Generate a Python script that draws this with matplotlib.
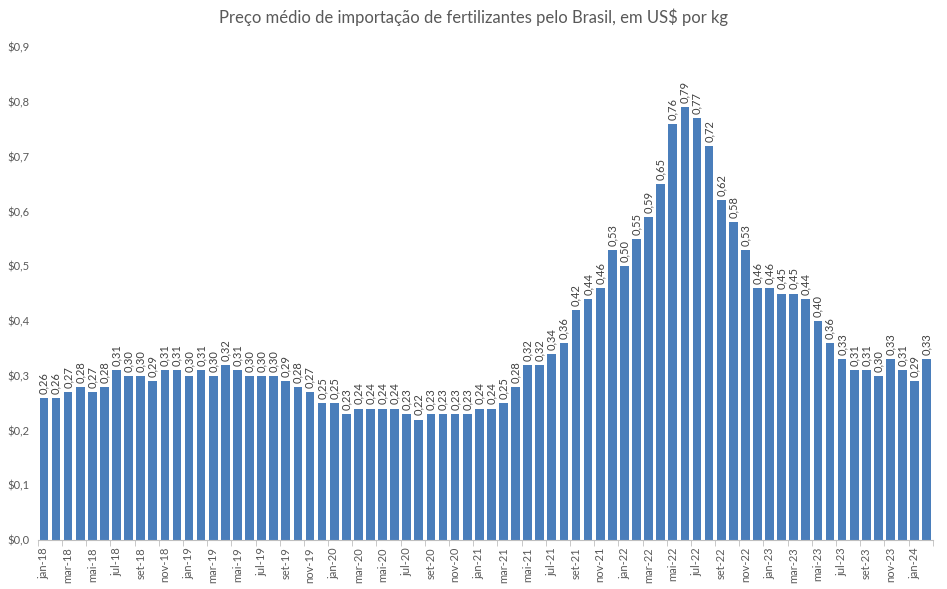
import matplotlib
matplotlib.use("Agg")
import matplotlib.pyplot as plt
import numpy as np

plt.rcParams['font.family'] = ['Lato', 'DejaVu Sans']

months_pt = ["jan", "fev", "mar", "abr", "mai", "jun", "jul", "ago", "set", "out", "nov", "dez"]
categories = [f"{m}-{y}" for y in range(18, 25) for m in months_pt][:74]

values = [
    0.26, 0.26, 0.27, 0.28, 0.27, 0.28, 0.31, 0.30, 0.30, 0.29, 0.31, 0.31,
    0.30, 0.31, 0.30, 0.32, 0.31, 0.30, 0.30, 0.30, 0.29, 0.28, 0.27, 0.25,
    0.25, 0.23, 0.24, 0.24, 0.24, 0.24, 0.23, 0.22, 0.23, 0.23, 0.23, 0.23,
    0.24, 0.24, 0.25, 0.28, 0.32, 0.32, 0.34, 0.36, 0.42, 0.44, 0.46, 0.53,
    0.50, 0.55, 0.59, 0.65, 0.76, 0.79, 0.77, 0.72, 0.62, 0.58, 0.53, 0.46,
    0.46, 0.45, 0.45, 0.44, 0.40, 0.36, 0.33, 0.31, 0.31, 0.30, 0.33, 0.31,
    0.29, 0.33,
]

yticks = [0.0, 0.1, 0.2, 0.3, 0.4, 0.5, 0.6, 0.7, 0.8, 0.9]
title = "Preço médio de importação de fertilizantes pelo Brasil, em US$ por kg"

fig = plt.figure(figsize=(9.47, 5.89), dpi=100)
ax = fig.add_axes([0.040, 0.083, 0.945, 0.837])

x = np.arange(len(values))
bars = ax.bar(x, values, width=0.72, color="#4a7ebb", edgecolor="none")

for xi, v in zip(x, values):
    ax.annotate(f"{v:.2f}".replace(".", ","), (xi, v), xytext=(0, 3),
                textcoords="offset points", rotation=90, ha="center", va="bottom",
                fontsize=8, color="#404040")

ax.set_xlim(-0.5, len(values) - 0.5)
ax.set_ylim(0, 0.9)
ax.set_yticks(yticks)
ax.set_yticklabels([f"${t:.1f}".replace(".", ",") for t in yticks], fontsize=8, color="#595959")
ax.tick_params(axis="y", length=0, pad=6)

ax.set_xticks(x[::2])
ax.set_xticklabels(categories[::2], rotation=90, fontsize=8, color="#595959")
ax.tick_params(axis="x", which="major", length=0, pad=5)
ax.set_xticks(np.arange(-0.5, len(values), 2), minor=True)
ax.tick_params(axis="x", which="minor", length=4, color="#bfbfbf")

for s in ["top", "right", "left"]:
    ax.spines[s].set_visible(False)
ax.spines["bottom"].set_color("#bfbfbf")

fig.suptitle(title, y=0.985, fontsize=12, color="#595959")

fig.savefig("out.png", dpi=100)
